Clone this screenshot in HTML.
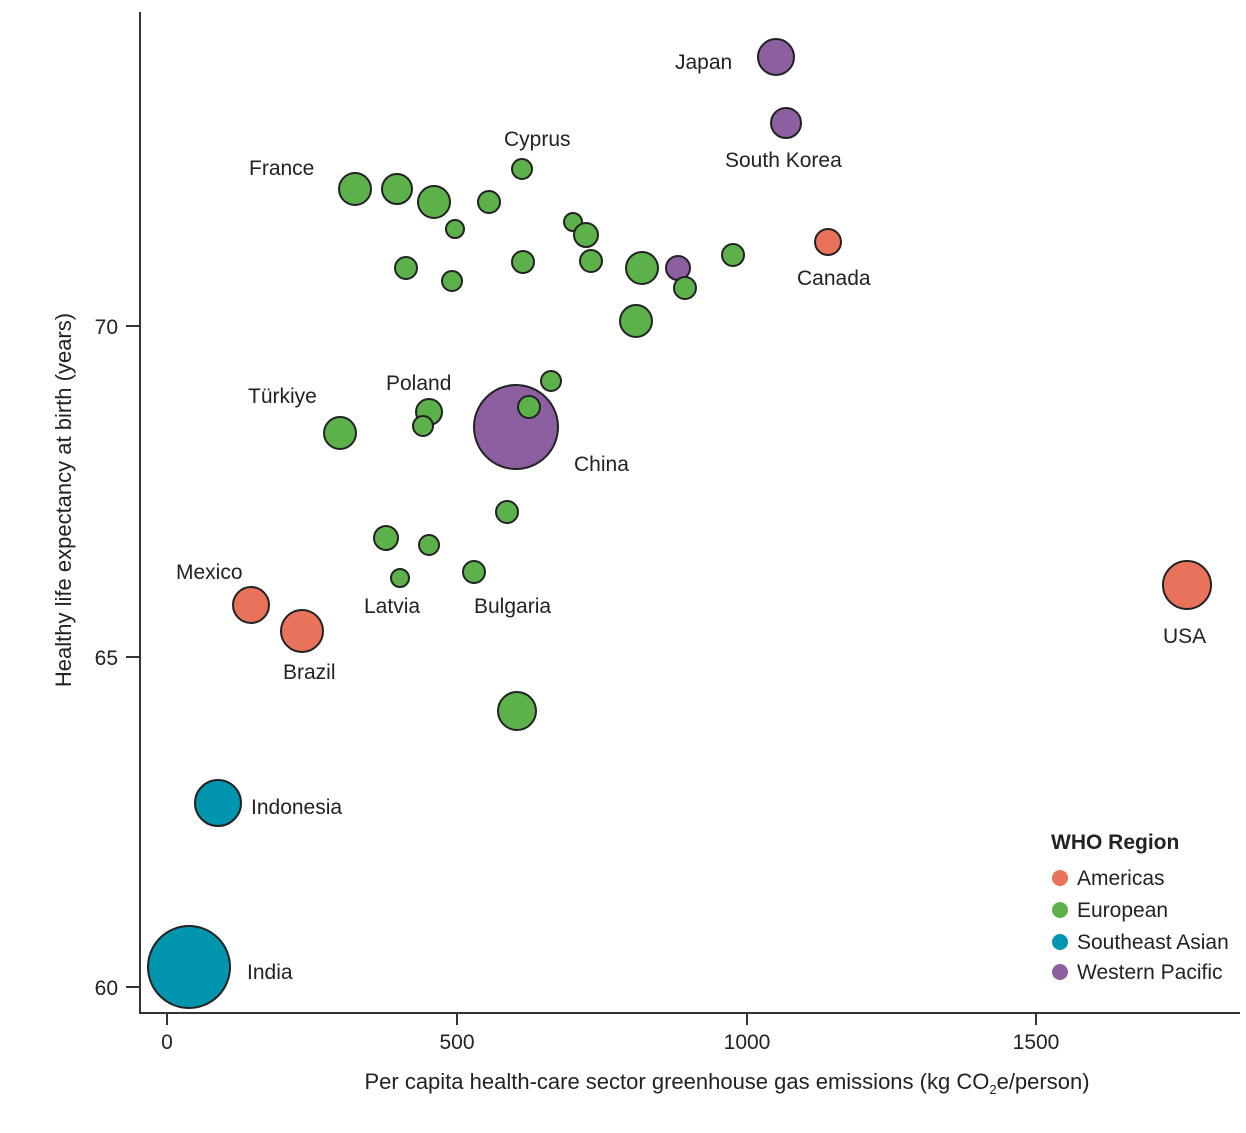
<!DOCTYPE html>
<html><head><meta charset="utf-8"><style>
body{margin:0;background:#fff}
svg text{font-family:"Liberation Sans",sans-serif;fill:#222;font-size:21px}
</style></head><body>
<svg width="1246" height="1128" viewBox="0 0 1246 1128" xmlns="http://www.w3.org/2000/svg">
<g stroke="#333" stroke-width="2" fill="none">
<path d="M140 12 V1013 H1240"/>
<path d="M126 326 H140 M126 657 H140 M126 987 H140"/>
<path d="M167 1013 V1025 M457 1013 V1025 M747 1013 V1025 M1036 1013 V1025"/>
</g>
<g font-size="21">
<text x="118" y="334" text-anchor="end">70</text>
<text x="118" y="665" text-anchor="end">65</text>
<text x="118" y="995" text-anchor="end">60</text>
<text x="167" y="1049" text-anchor="middle">0</text>
<text x="457" y="1049" text-anchor="middle">500</text>
<text x="747" y="1049" text-anchor="middle">1000</text>
<text x="1036" y="1049" text-anchor="middle">1500</text>
<text x="727" y="1089" text-anchor="middle" style="font-size:22px">Per capita health-care sector greenhouse gas emissions (kg CO<tspan font-size="13" dy="5">2</tspan><tspan dy="-5">e/person)</tspan></text>
<text transform="translate(71 500) rotate(-90)" text-anchor="middle" style="font-size:22px">Healthy life expectancy at birth (years)</text>
</g>
<g stroke="#222" stroke-width="2">
<circle cx="189" cy="967" r="41" fill="#0095AE"/>
<circle cx="218" cy="803" r="23" fill="#0095AE"/>
<circle cx="516" cy="427" r="42" fill="#8C5FA0"/>
<circle cx="776" cy="57" r="18" fill="#8C5FA0"/>
<circle cx="786" cy="123" r="15" fill="#8C5FA0"/>
<g fill="#5DB14A">
<circle cx="522" cy="169" r="10"/>
<circle cx="355" cy="189" r="16"/>
<circle cx="397" cy="189" r="15"/>
<circle cx="434" cy="202" r="16"/>
<circle cx="489" cy="202" r="11"/>
<circle cx="455" cy="229" r="9"/>
<circle cx="573" cy="222" r="9"/>
<circle cx="586" cy="235" r="12"/>
<circle cx="406" cy="268" r="11"/>
<circle cx="452" cy="281" r="10"/>
<circle cx="523" cy="262" r="11"/>
<circle cx="591" cy="261" r="11"/>
<circle cx="642" cy="268" r="16"/>
</g>
<circle cx="678" cy="268" r="12" fill="#8C5FA0"/>
<g fill="#5DB14A">
<circle cx="685" cy="288" r="11"/>
<circle cx="733" cy="255" r="11"/>
<circle cx="636" cy="321" r="16"/>
<circle cx="551" cy="381" r="10"/>
<circle cx="429" cy="412" r="13"/>
<circle cx="423" cy="426" r="10"/>
<circle cx="340" cy="433" r="16"/>
<circle cx="529" cy="407" r="11"/>
<circle cx="507" cy="512" r="11"/>
<circle cx="386" cy="538" r="12"/>
<circle cx="429" cy="545" r="10"/>
<circle cx="400" cy="578" r="9"/>
<circle cx="474" cy="572" r="11"/>
<circle cx="517" cy="711" r="19"/>
</g>
<g fill="#E8735A">
<circle cx="828" cy="242" r="13"/>
<circle cx="1187" cy="585" r="24"/>
<circle cx="251" cy="605" r="18"/>
<circle cx="302" cy="631" r="21"/>
</g>
</g>
<g>
<text x="675" y="69">Japan</text>
<text x="725" y="167">South Korea</text>
<text x="504" y="146">Cyprus</text>
<text x="249" y="175">France</text>
<text x="797" y="285">Canada</text>
<text x="386" y="390">Poland</text>
<text x="248" y="403">Türkiye</text>
<text x="574" y="471">China</text>
<text x="176" y="579">Mexico</text>
<text x="364" y="613">Latvia</text>
<text x="474" y="613">Bulgaria</text>
<text x="1163" y="643">USA</text>
<text x="283" y="679">Brazil</text>
<text x="251" y="814">Indonesia</text>
<text x="247" y="979">India</text>
</g>
<g>
<text x="1051" y="849" font-weight="bold">WHO Region</text>
<circle cx="1060" cy="878" r="8" fill="#E8735A"/><text x="1077" y="885">Americas</text>
<circle cx="1060" cy="910" r="8" fill="#5DB14A"/><text x="1077" y="917">European</text>
<circle cx="1060" cy="942" r="8" fill="#0095AE"/><text x="1077" y="949">Southeast Asian</text>
<circle cx="1060" cy="972" r="8" fill="#8C5FA0"/><text x="1077" y="979">Western Pacific</text>
</g>
</svg>
</body></html>
